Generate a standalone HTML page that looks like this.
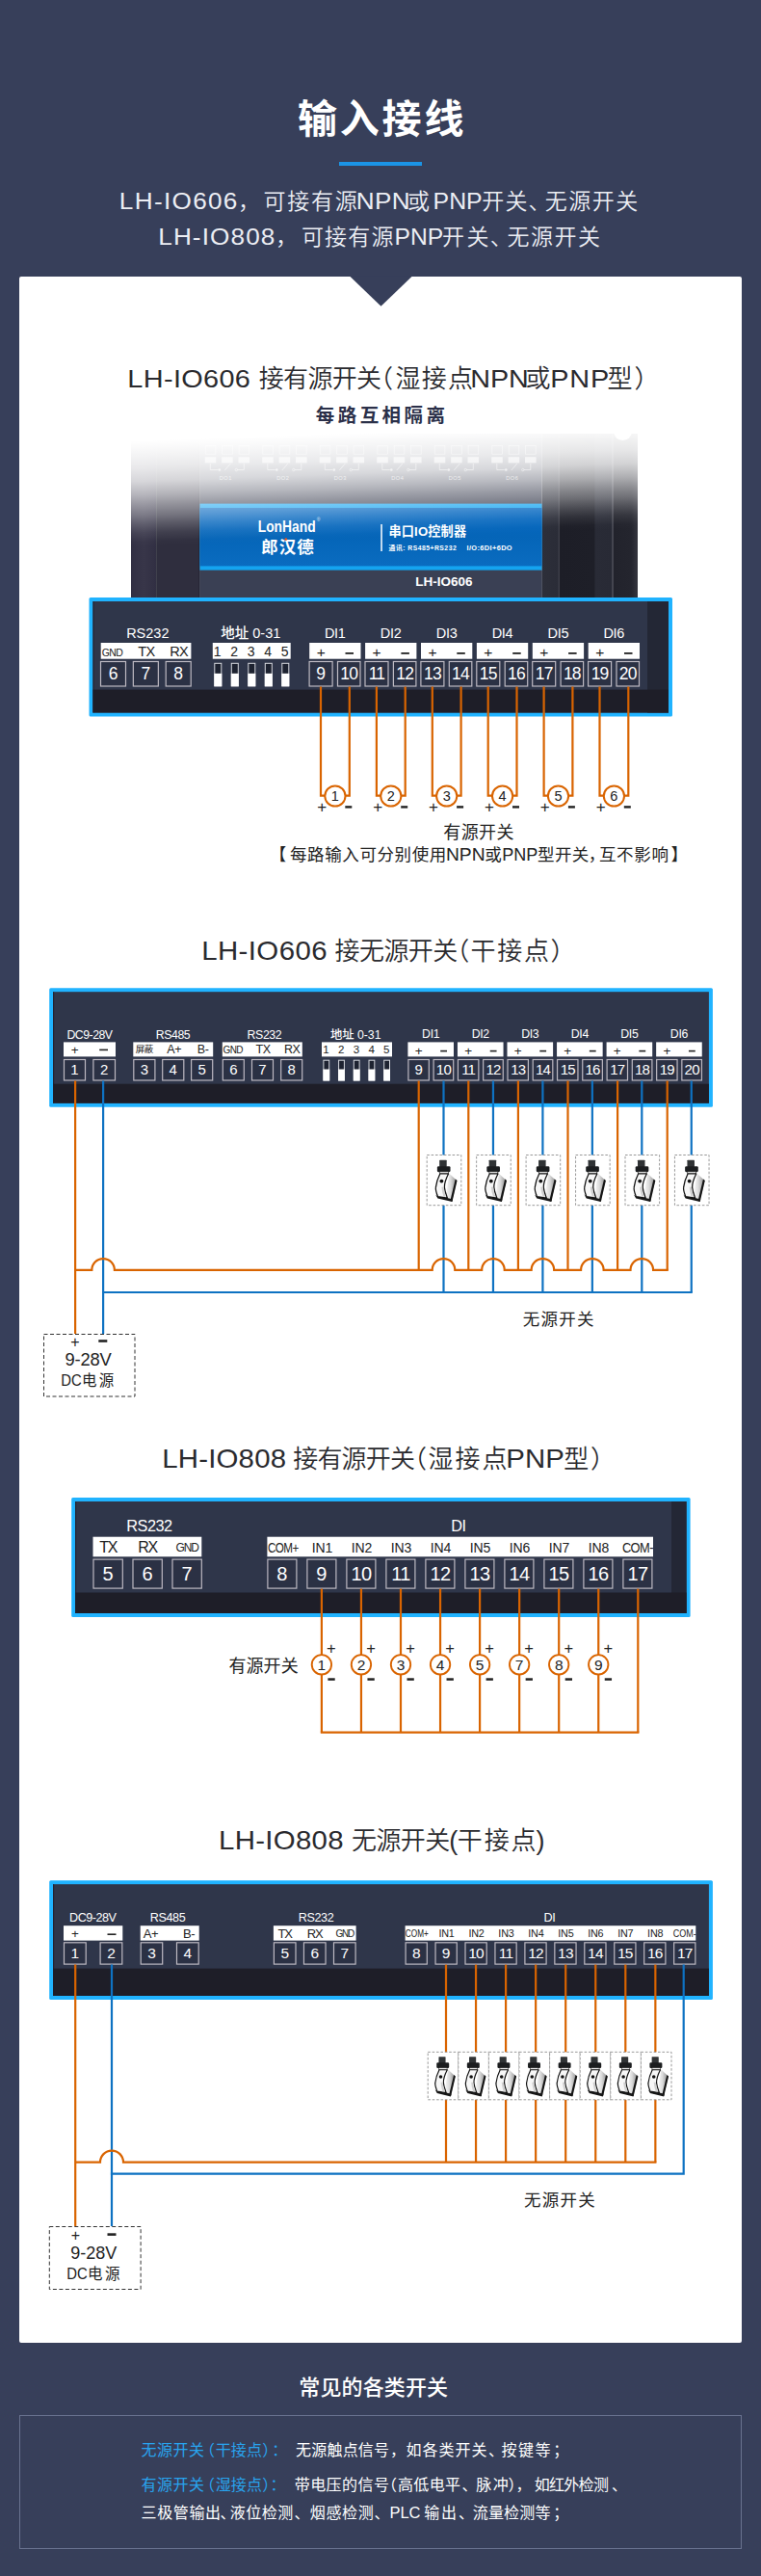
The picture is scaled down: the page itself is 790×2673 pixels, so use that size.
<!DOCTYPE html>
<html lang="zh-CN">
<head>
<meta charset="utf-8">
<title>输入接线</title>
<style>
html,body{margin:0;padding:0;}
body{width:790px;height:2673px;background:#373f5a;position:relative;overflow:hidden;font-family:"Liberation Sans","Noto Sans CJK SC",sans-serif;}
#card{position:absolute;left:20px;top:287px;width:750px;height:2144px;background:#fff;border-radius:2px;}
#bar{position:absolute;left:352px;top:168px;width:86px;height:4px;background:#1b94e6;}
#ft{position:absolute;left:20px;top:2506px;width:748px;height:137.4px;border:1px solid #69728f;}
svg{position:absolute;left:0;top:0;}
svg text{font-family:"Liberation Sans","Noto Sans CJK SC",sans-serif;}
</style>
</head>
<body>
<div id="bar"></div>
<div id="card"></div>
<div id="ft"></div>
<svg width="790" height="2673" viewBox="0 0 790 2673">
<defs>
<linearGradient id="fade" gradientUnits="userSpaceOnUse" x1="400" y1="436" x2="404.81" y2="566.00"><stop offset="0.0000" stop-color="#fff" stop-opacity="1"/><stop offset="0.0923" stop-color="#fff" stop-opacity="1"/><stop offset="0.1462" stop-color="#fff" stop-opacity="0.975"/><stop offset="0.2154" stop-color="#fff" stop-opacity="0.94"/><stop offset="0.3077" stop-color="#fff" stop-opacity="0.89"/><stop offset="0.4154" stop-color="#fff" stop-opacity="0.8"/><stop offset="0.5231" stop-color="#fff" stop-opacity="0.635"/><stop offset="0.6115" stop-color="#fff" stop-opacity="0.47"/><stop offset="0.6827" stop-color="#fff" stop-opacity="0.35"/><stop offset="0.7558" stop-color="#fff" stop-opacity="0.205"/><stop offset="0.8269" stop-color="#fff" stop-opacity="0.085"/><stop offset="0.8981" stop-color="#fff" stop-opacity="0.012"/><stop offset="0.9385" stop-color="#fff" stop-opacity="0"/><stop offset="1.0000" stop-color="#fff" stop-opacity="0"/></linearGradient>
<linearGradient id="lbl" x1="0" y1="0" x2="0" y2="1"><stop offset="0" stop-color="#0568c2"/><stop offset="0.5" stop-color="#0565b8"/><stop offset="1" stop-color="#0a6cc0"/></linearGradient>
<linearGradient id="side1" x1="0" y1="0" x2="1" y2="0"><stop offset="0" stop-color="#312f43"/><stop offset="0.5" stop-color="#383649"/><stop offset="0.96" stop-color="#312f43"/><stop offset="0.97" stop-color="#40414c"/><stop offset="1" stop-color="#40414c"/></linearGradient>
<linearGradient id="sideR" x1="0" y1="0" x2="1" y2="0"><stop offset="0" stop-color="#2d2f3a"/><stop offset="0.17" stop-color="#2a2c37"/><stop offset="0.172" stop-color="#3e3f49"/><stop offset="0.185" stop-color="#3e3f49"/><stop offset="0.187" stop-color="#1d1e27"/><stop offset="0.55" stop-color="#1e1f28"/><stop offset="0.555" stop-color="#292b36"/><stop offset="0.73" stop-color="#282a35"/><stop offset="0.732" stop-color="#44454f"/><stop offset="0.745" stop-color="#44454f"/><stop offset="0.747" stop-color="#22232c"/><stop offset="0.93" stop-color="#24252e"/><stop offset="1" stop-color="#34353e"/></linearGradient>
<linearGradient id="swg" x1="0" y1="0" x2="1" y2="0"><stop offset="0" stop-color="#fafafa"/><stop offset="0.45" stop-color="#dcdcdc"/><stop offset="1" stop-color="#8a8a8a"/></linearGradient>
<g id="sw">
 <rect x="-4.8" y="5.2" width="7.5" height="7.2" rx="0.6" fill="#303335"/>
 <rect x="-7.1" y="11.6" width="13.6" height="6" rx="1.3" fill="#1b1d1f"/>
 <rect x="-4.5" y="17.2" width="8.8" height="2.6" fill="#e9e9e9" stroke="#222" stroke-width="0.6"/>
 <path d="M5.4,19.2 L13.2,26.4 L8.3,47.6 L1.5,45 Z" fill="url(#swg)"/>
 <path d="M11.7,25 L13.5,26.5 L8.5,48 L6.3,47.2 Z" fill="#141414"/>
 <path d="M-8.8,40.8 L-6.6,44.9 L8.3,48.4 L8.9,45.7 L3.3,44.3 L-6.5,42.8 Z" fill="#161616"/>
 <path d="M-4.2,19.4 L4.5,19.4 C2.2,24 0.1,29 0.4,33.5 C0.8,38 2.3,41.4 3.4,44.4 L-6.5,42.9 C-8,39 -9,36 -8.6,33.5 C-8,28 -6,23 -4.2,19.4 Z" fill="#f7f7f7" stroke="#121212" stroke-width="1.25" stroke-linejoin="round"/>
 <path d="M-1.5,33 C-1.2,37 -0.4,40 0.6,43" fill="none" stroke="#d0d0d0" stroke-width="2.2"/>
 <circle cx="-2.6" cy="27" r="1.9" fill="#111"/>
</g>
</defs>
<polygon points="363,286.5 428,286.5 395.5,317.7" fill="#373f5a"/>
<rect x="136.00" y="450.00" width="27.00" height="171.00" fill="url(#side1)" />
<rect x="163.00" y="450.00" width="44.50" height="171.00" fill="#2f2e3e" />
<rect x="206.50" y="450.00" width="1.00" height="171.00" fill="#1f1e2c" />
<rect x="207.50" y="450.00" width="355.00" height="171.00" fill="#3a3e50" />
<rect x="562.50" y="450.00" width="99.50" height="171.00" fill="url(#sideR)" />
<rect x="213.3" y="462.6" width="10.6" height="8.6" fill="none" stroke="#fff" stroke-width="0.7" opacity="0.6"/>
<rect x="212.7" y="474.2" width="11.6" height="6.2" fill="#fff" opacity="0.65"/>
<rect x="230.7" y="462.6" width="10.6" height="8.6" fill="none" stroke="#fff" stroke-width="0.7" opacity="0.6"/>
<rect x="230.1" y="474.2" width="11.6" height="6.2" fill="#fff" opacity="0.65"/>
<rect x="248.1" y="462.6" width="10.6" height="8.6" fill="none" stroke="#fff" stroke-width="0.7" opacity="0.6"/>
<rect x="247.5" y="474.2" width="11.6" height="6.2" fill="#fff" opacity="0.65"/>
<path d="M218.3,481 v6.5 h8 M239.3,481 l-6,7 M253.3,481 v6.5 h-7" fill="none" stroke="#fff" stroke-width="0.8" opacity="0.65"/>
<circle cx="227.8" cy="487.5" r="1.3" fill="#fff" opacity="0.7"/><circle cx="245.3" cy="487.5" r="1.2" fill="none" stroke="#fff" stroke-width="0.7" opacity="0.7"/>
<text x="234.30" y="497.60" font-size="5.6" fill="#fff" text-anchor="middle" font-weight="400" opacity="0.7" letter-spacing="0.6">DO1</text>
<rect x="272.8" y="462.6" width="10.6" height="8.6" fill="none" stroke="#fff" stroke-width="0.7" opacity="0.6"/>
<rect x="272.2" y="474.2" width="11.6" height="6.2" fill="#fff" opacity="0.65"/>
<rect x="290.2" y="462.6" width="10.6" height="8.6" fill="none" stroke="#fff" stroke-width="0.7" opacity="0.6"/>
<rect x="289.6" y="474.2" width="11.6" height="6.2" fill="#fff" opacity="0.65"/>
<rect x="307.6" y="462.6" width="10.6" height="8.6" fill="none" stroke="#fff" stroke-width="0.7" opacity="0.6"/>
<rect x="307.0" y="474.2" width="11.6" height="6.2" fill="#fff" opacity="0.65"/>
<path d="M277.8,481 v6.5 h8 M298.8,481 l-6,7 M312.8,481 v6.5 h-7" fill="none" stroke="#fff" stroke-width="0.8" opacity="0.65"/>
<circle cx="287.3" cy="487.5" r="1.3" fill="#fff" opacity="0.7"/><circle cx="304.8" cy="487.5" r="1.2" fill="none" stroke="#fff" stroke-width="0.7" opacity="0.7"/>
<text x="293.80" y="497.60" font-size="5.6" fill="#fff" text-anchor="middle" font-weight="400" opacity="0.7" letter-spacing="0.6">DO2</text>
<rect x="332.3" y="462.6" width="10.6" height="8.6" fill="none" stroke="#fff" stroke-width="0.7" opacity="0.6"/>
<rect x="331.7" y="474.2" width="11.6" height="6.2" fill="#fff" opacity="0.65"/>
<rect x="349.7" y="462.6" width="10.6" height="8.6" fill="none" stroke="#fff" stroke-width="0.7" opacity="0.6"/>
<rect x="349.1" y="474.2" width="11.6" height="6.2" fill="#fff" opacity="0.65"/>
<rect x="367.1" y="462.6" width="10.6" height="8.6" fill="none" stroke="#fff" stroke-width="0.7" opacity="0.6"/>
<rect x="366.5" y="474.2" width="11.6" height="6.2" fill="#fff" opacity="0.65"/>
<path d="M337.3,481 v6.5 h8 M358.3,481 l-6,7 M372.3,481 v6.5 h-7" fill="none" stroke="#fff" stroke-width="0.8" opacity="0.65"/>
<circle cx="346.8" cy="487.5" r="1.3" fill="#fff" opacity="0.7"/><circle cx="364.3" cy="487.5" r="1.2" fill="none" stroke="#fff" stroke-width="0.7" opacity="0.7"/>
<text x="353.30" y="497.60" font-size="5.6" fill="#fff" text-anchor="middle" font-weight="400" opacity="0.7" letter-spacing="0.6">DO3</text>
<rect x="391.8" y="462.6" width="10.6" height="8.6" fill="none" stroke="#fff" stroke-width="0.7" opacity="0.6"/>
<rect x="391.2" y="474.2" width="11.6" height="6.2" fill="#fff" opacity="0.65"/>
<rect x="409.2" y="462.6" width="10.6" height="8.6" fill="none" stroke="#fff" stroke-width="0.7" opacity="0.6"/>
<rect x="408.6" y="474.2" width="11.6" height="6.2" fill="#fff" opacity="0.65"/>
<rect x="426.6" y="462.6" width="10.6" height="8.6" fill="none" stroke="#fff" stroke-width="0.7" opacity="0.6"/>
<rect x="426.0" y="474.2" width="11.6" height="6.2" fill="#fff" opacity="0.65"/>
<path d="M396.8,481 v6.5 h8 M417.8,481 l-6,7 M431.8,481 v6.5 h-7" fill="none" stroke="#fff" stroke-width="0.8" opacity="0.65"/>
<circle cx="406.3" cy="487.5" r="1.3" fill="#fff" opacity="0.7"/><circle cx="423.8" cy="487.5" r="1.2" fill="none" stroke="#fff" stroke-width="0.7" opacity="0.7"/>
<text x="412.80" y="497.60" font-size="5.6" fill="#fff" text-anchor="middle" font-weight="400" opacity="0.7" letter-spacing="0.6">DO4</text>
<rect x="451.3" y="462.6" width="10.6" height="8.6" fill="none" stroke="#fff" stroke-width="0.7" opacity="0.6"/>
<rect x="450.7" y="474.2" width="11.6" height="6.2" fill="#fff" opacity="0.65"/>
<rect x="468.7" y="462.6" width="10.6" height="8.6" fill="none" stroke="#fff" stroke-width="0.7" opacity="0.6"/>
<rect x="468.1" y="474.2" width="11.6" height="6.2" fill="#fff" opacity="0.65"/>
<rect x="486.1" y="462.6" width="10.6" height="8.6" fill="none" stroke="#fff" stroke-width="0.7" opacity="0.6"/>
<rect x="485.5" y="474.2" width="11.6" height="6.2" fill="#fff" opacity="0.65"/>
<path d="M456.3,481 v6.5 h8 M477.3,481 l-6,7 M491.3,481 v6.5 h-7" fill="none" stroke="#fff" stroke-width="0.8" opacity="0.65"/>
<circle cx="465.8" cy="487.5" r="1.3" fill="#fff" opacity="0.7"/><circle cx="483.3" cy="487.5" r="1.2" fill="none" stroke="#fff" stroke-width="0.7" opacity="0.7"/>
<text x="472.30" y="497.60" font-size="5.6" fill="#fff" text-anchor="middle" font-weight="400" opacity="0.7" letter-spacing="0.6">DO5</text>
<rect x="510.8" y="462.6" width="10.6" height="8.6" fill="none" stroke="#fff" stroke-width="0.7" opacity="0.6"/>
<rect x="510.2" y="474.2" width="11.6" height="6.2" fill="#fff" opacity="0.65"/>
<rect x="528.2" y="462.6" width="10.6" height="8.6" fill="none" stroke="#fff" stroke-width="0.7" opacity="0.6"/>
<rect x="527.6" y="474.2" width="11.6" height="6.2" fill="#fff" opacity="0.65"/>
<rect x="545.6" y="462.6" width="10.6" height="8.6" fill="none" stroke="#fff" stroke-width="0.7" opacity="0.6"/>
<rect x="545.0" y="474.2" width="11.6" height="6.2" fill="#fff" opacity="0.65"/>
<path d="M515.8,481 v6.5 h8 M536.8,481 l-6,7 M550.8,481 v6.5 h-7" fill="none" stroke="#fff" stroke-width="0.8" opacity="0.65"/>
<circle cx="525.3" cy="487.5" r="1.3" fill="#fff" opacity="0.7"/><circle cx="542.8" cy="487.5" r="1.2" fill="none" stroke="#fff" stroke-width="0.7" opacity="0.7"/>
<text x="531.80" y="497.60" font-size="5.6" fill="#fff" text-anchor="middle" font-weight="400" opacity="0.7" letter-spacing="0.6">DO6</text>
<rect x="207.50" y="522.60" width="355.00" height="69.20" fill="#14a4f0" />
<rect x="207.50" y="527.00" width="355.00" height="60.40" fill="url(#lbl)" />
<rect x="207.50" y="591.80" width="355.00" height="29.20" fill="#3a4054" />
<rect x="134.00" y="430.00" width="530.00" height="160.00" fill="url(#fade)" />
<circle cx="646.5" cy="447.5" r="9.5" fill="#fff"/>
<text x="297.70" y="552.30" font-size="16" fill="#fff" text-anchor="middle" font-weight="700" textLength="60" lengthAdjust="spacingAndGlyphs">LonHand</text>
<text x="330.50" y="540.50" font-size="5" fill="#dfe9f5" text-anchor="middle" font-weight="400" >®</text>
<text x="299.00" y="573.60" font-size="17.5" fill="#fff" text-anchor="middle" font-weight="700" letter-spacing="1">郎汉德</text>
<circle cx="296.8" cy="559.6" r="1.3" fill="#e8541e"/>
<rect x="395.30" y="544.00" width="1.50" height="28.00" fill="#fff" />
<text x="403.40" y="556.30" font-size="13.2" fill="#fff" font-weight="700" letter-spacing="0.150" >串口IO控制器</text>
<text x="403.60" y="571.00" font-size="6.8" fill="#fff" font-weight="700" letter-spacing="0.486" >通讯: RS485+RS232</text>
<text transform="translate(484.50,571.00) scale(1.0900,1)" x="0.00" y="0" font-size="6.8" fill="#fff" font-weight="700" letter-spacing="0.339" >I/O:6DI+6DO</text>
<text x="460.80" y="607.60" font-size="13.5" fill="#fff" text-anchor="middle" font-weight="700" >LH-IO606</text>
<rect x="92.50" y="620.00" width="605.50" height="123.50" fill="#20b3ff" rx="1.5"/>
<rect x="96.50" y="624.00" width="597.50" height="115.50" fill="#2f364a" />
<rect x="96.50" y="624.00" width="0.90" height="115.50" fill="#221a24" />
<rect x="672.00" y="624.00" width="22.00" height="115.50" fill="#232735" />
<rect x="96.50" y="715.60" width="597.50" height="23.90" fill="#1e1e28" />
<text x="153.30" y="662.00" font-size="14.5" fill="#fff" text-anchor="middle" font-weight="400" >RS232</text>
<rect x="104.70" y="667.00" width="93.70" height="16.70" fill="#fff" />
<rect x="104.50" y="686.50" width="26.00" height="25.50" fill="#2b3144" stroke="#bdb9c2" stroke-width="1.2"/>
<text x="117.50" y="704.86" font-size="17.5" fill="#fff" text-anchor="middle" font-weight="400" >6</text>
<text x="116.50" y="680.60" font-size="10.5" fill="#222" text-anchor="middle" font-weight="400" letter-spacing="-0.6">GND</text>
<rect x="138.35" y="686.50" width="26.00" height="25.50" fill="#2b3144" stroke="#bdb9c2" stroke-width="1.2"/>
<text x="151.35" y="704.86" font-size="17.5" fill="#fff" text-anchor="middle" font-weight="400" >7</text>
<text x="151.85" y="680.60" font-size="14.5" fill="#222" text-anchor="middle" font-weight="400" letter-spacing="-0.6">TX</text>
<rect x="172.20" y="686.50" width="26.00" height="25.50" fill="#2b3144" stroke="#bdb9c2" stroke-width="1.2"/>
<text x="185.20" y="704.86" font-size="17.5" fill="#fff" text-anchor="middle" font-weight="400" >8</text>
<text x="185.70" y="680.60" font-size="14.5" fill="#222" text-anchor="middle" font-weight="400" letter-spacing="-0.6">RX</text>
<text x="260.30" y="662.30" font-size="14.5" fill="#fff" text-anchor="middle" font-weight="500" >地址 0-31</text>
<rect x="220.80" y="667.00" width="80.90" height="16.70" fill="#fff" />
<text x="225.70" y="680.60" font-size="14" fill="#222" text-anchor="middle" font-weight="400" >1</text>
<rect x="222.80" y="688.30" width="7.00" height="23.50" fill="#1d2230" stroke="#d5d7dd" stroke-width="1"/>
<rect x="222.30" y="698.82" width="8.00" height="13.48" fill="#fff" />
<text x="243.20" y="680.60" font-size="14" fill="#222" text-anchor="middle" font-weight="400" >2</text>
<rect x="240.30" y="688.30" width="7.00" height="23.50" fill="#1d2230" stroke="#d5d7dd" stroke-width="1"/>
<rect x="239.80" y="698.82" width="8.00" height="13.48" fill="#fff" />
<text x="260.70" y="680.60" font-size="14" fill="#222" text-anchor="middle" font-weight="400" >3</text>
<rect x="257.80" y="688.30" width="7.00" height="23.50" fill="#1d2230" stroke="#d5d7dd" stroke-width="1"/>
<rect x="257.30" y="698.82" width="8.00" height="13.48" fill="#fff" />
<text x="278.20" y="680.60" font-size="14" fill="#222" text-anchor="middle" font-weight="400" >4</text>
<rect x="275.30" y="688.30" width="7.00" height="23.50" fill="#1d2230" stroke="#d5d7dd" stroke-width="1"/>
<rect x="274.80" y="698.82" width="8.00" height="13.48" fill="#fff" />
<text x="295.70" y="680.60" font-size="14" fill="#222" text-anchor="middle" font-weight="400" >5</text>
<rect x="292.80" y="688.30" width="7.00" height="23.50" fill="#1d2230" stroke="#d5d7dd" stroke-width="1"/>
<rect x="292.30" y="698.82" width="8.00" height="13.48" fill="#fff" />
<text x="347.80" y="662.00" font-size="14.5" fill="#fff" text-anchor="middle" font-weight="400" letter-spacing="-0.3">DI1</text>
<rect x="321.20" y="667.00" width="53.30" height="16.70" fill="#fff" />
<rect x="321.10" y="686.50" width="24.00" height="25.50" fill="#2b3144" stroke="#bdb9c2" stroke-width="1.2"/>
<text x="333.10" y="704.86" font-size="17.5" fill="#fff" text-anchor="middle" font-weight="400" >9</text>
<rect x="350.50" y="686.50" width="23.50" height="25.50" fill="#2b3144" stroke="#bdb9c2" stroke-width="1.2"/>
<text x="362.25" y="704.86" font-size="17.5" fill="#fff" text-anchor="middle" font-weight="400" letter-spacing="-0.8">10</text>
<text x="333.20" y="682.00" font-size="15.5" fill="#222" text-anchor="middle" font-weight="400" >+</text>
<rect x="358.50" y="677.00" width="8.50" height="1.80" fill="#222" />
<path d="M333.00,712.5 V825.6 H362.80 V712.5" fill="none" stroke="#d96400" stroke-width="2.2"/>
<circle cx="347.90" cy="826" r="10.6" fill="#fff" stroke="#d96400" stroke-width="2"/>
<text x="347.90" y="831.20" font-size="14.5" fill="#222" text-anchor="middle" font-weight="400" >1</text>
<text x="334.20" y="843.00" font-size="17" fill="#222" text-anchor="middle" font-weight="400" >+</text>
<rect x="358.30" y="836.20" width="7.00" height="2.40" fill="#222" />
<text x="405.70" y="662.00" font-size="14.5" fill="#fff" text-anchor="middle" font-weight="400" letter-spacing="-0.3">DI2</text>
<rect x="379.10" y="667.00" width="53.30" height="16.70" fill="#fff" />
<rect x="379.00" y="686.50" width="24.00" height="25.50" fill="#2b3144" stroke="#bdb9c2" stroke-width="1.2"/>
<text x="391.00" y="704.86" font-size="17.5" fill="#fff" text-anchor="middle" font-weight="400" letter-spacing="-0.8">11</text>
<rect x="408.40" y="686.50" width="23.50" height="25.50" fill="#2b3144" stroke="#bdb9c2" stroke-width="1.2"/>
<text x="420.15" y="704.86" font-size="17.5" fill="#fff" text-anchor="middle" font-weight="400" letter-spacing="-0.8">12</text>
<text x="391.10" y="682.00" font-size="15.5" fill="#222" text-anchor="middle" font-weight="400" >+</text>
<rect x="416.40" y="677.00" width="8.50" height="1.80" fill="#222" />
<path d="M390.90,712.5 V825.6 H420.70 V712.5" fill="none" stroke="#d96400" stroke-width="2.2"/>
<circle cx="405.80" cy="826" r="10.6" fill="#fff" stroke="#d96400" stroke-width="2"/>
<text x="405.80" y="831.20" font-size="14.5" fill="#222" text-anchor="middle" font-weight="400" >2</text>
<text x="392.10" y="843.00" font-size="17" fill="#222" text-anchor="middle" font-weight="400" >+</text>
<rect x="416.20" y="836.20" width="7.00" height="2.40" fill="#222" />
<text x="463.60" y="662.00" font-size="14.5" fill="#fff" text-anchor="middle" font-weight="400" letter-spacing="-0.3">DI3</text>
<rect x="437.00" y="667.00" width="53.30" height="16.70" fill="#fff" />
<rect x="436.90" y="686.50" width="24.00" height="25.50" fill="#2b3144" stroke="#bdb9c2" stroke-width="1.2"/>
<text x="448.90" y="704.86" font-size="17.5" fill="#fff" text-anchor="middle" font-weight="400" letter-spacing="-0.8">13</text>
<rect x="466.30" y="686.50" width="23.50" height="25.50" fill="#2b3144" stroke="#bdb9c2" stroke-width="1.2"/>
<text x="478.05" y="704.86" font-size="17.5" fill="#fff" text-anchor="middle" font-weight="400" letter-spacing="-0.8">14</text>
<text x="449.00" y="682.00" font-size="15.5" fill="#222" text-anchor="middle" font-weight="400" >+</text>
<rect x="474.30" y="677.00" width="8.50" height="1.80" fill="#222" />
<path d="M448.80,712.5 V825.6 H478.60 V712.5" fill="none" stroke="#d96400" stroke-width="2.2"/>
<circle cx="463.70" cy="826" r="10.6" fill="#fff" stroke="#d96400" stroke-width="2"/>
<text x="463.70" y="831.20" font-size="14.5" fill="#222" text-anchor="middle" font-weight="400" >3</text>
<text x="450.00" y="843.00" font-size="17" fill="#222" text-anchor="middle" font-weight="400" >+</text>
<rect x="474.10" y="836.20" width="7.00" height="2.40" fill="#222" />
<text x="521.50" y="662.00" font-size="14.5" fill="#fff" text-anchor="middle" font-weight="400" letter-spacing="-0.3">DI4</text>
<rect x="494.90" y="667.00" width="53.30" height="16.70" fill="#fff" />
<rect x="494.80" y="686.50" width="24.00" height="25.50" fill="#2b3144" stroke="#bdb9c2" stroke-width="1.2"/>
<text x="506.80" y="704.86" font-size="17.5" fill="#fff" text-anchor="middle" font-weight="400" letter-spacing="-0.8">15</text>
<rect x="524.20" y="686.50" width="23.50" height="25.50" fill="#2b3144" stroke="#bdb9c2" stroke-width="1.2"/>
<text x="535.95" y="704.86" font-size="17.5" fill="#fff" text-anchor="middle" font-weight="400" letter-spacing="-0.8">16</text>
<text x="506.90" y="682.00" font-size="15.5" fill="#222" text-anchor="middle" font-weight="400" >+</text>
<rect x="532.20" y="677.00" width="8.50" height="1.80" fill="#222" />
<path d="M506.70,712.5 V825.6 H536.50 V712.5" fill="none" stroke="#d96400" stroke-width="2.2"/>
<circle cx="521.60" cy="826" r="10.6" fill="#fff" stroke="#d96400" stroke-width="2"/>
<text x="521.60" y="831.20" font-size="14.5" fill="#222" text-anchor="middle" font-weight="400" >4</text>
<text x="507.90" y="843.00" font-size="17" fill="#222" text-anchor="middle" font-weight="400" >+</text>
<rect x="532.00" y="836.20" width="7.00" height="2.40" fill="#222" />
<text x="579.40" y="662.00" font-size="14.5" fill="#fff" text-anchor="middle" font-weight="400" letter-spacing="-0.3">DI5</text>
<rect x="552.80" y="667.00" width="53.30" height="16.70" fill="#fff" />
<rect x="552.70" y="686.50" width="24.00" height="25.50" fill="#2b3144" stroke="#bdb9c2" stroke-width="1.2"/>
<text x="564.70" y="704.86" font-size="17.5" fill="#fff" text-anchor="middle" font-weight="400" letter-spacing="-0.8">17</text>
<rect x="582.10" y="686.50" width="23.50" height="25.50" fill="#2b3144" stroke="#bdb9c2" stroke-width="1.2"/>
<text x="593.85" y="704.86" font-size="17.5" fill="#fff" text-anchor="middle" font-weight="400" letter-spacing="-0.8">18</text>
<text x="564.80" y="682.00" font-size="15.5" fill="#222" text-anchor="middle" font-weight="400" >+</text>
<rect x="590.10" y="677.00" width="8.50" height="1.80" fill="#222" />
<path d="M564.60,712.5 V825.6 H594.40 V712.5" fill="none" stroke="#d96400" stroke-width="2.2"/>
<circle cx="579.50" cy="826" r="10.6" fill="#fff" stroke="#d96400" stroke-width="2"/>
<text x="579.50" y="831.20" font-size="14.5" fill="#222" text-anchor="middle" font-weight="400" >5</text>
<text x="565.80" y="843.00" font-size="17" fill="#222" text-anchor="middle" font-weight="400" >+</text>
<rect x="589.90" y="836.20" width="7.00" height="2.40" fill="#222" />
<text x="637.30" y="662.00" font-size="14.5" fill="#fff" text-anchor="middle" font-weight="400" letter-spacing="-0.3">DI6</text>
<rect x="610.70" y="667.00" width="53.30" height="16.70" fill="#fff" />
<rect x="610.60" y="686.50" width="24.00" height="25.50" fill="#2b3144" stroke="#bdb9c2" stroke-width="1.2"/>
<text x="622.60" y="704.86" font-size="17.5" fill="#fff" text-anchor="middle" font-weight="400" letter-spacing="-0.8">19</text>
<rect x="640.00" y="686.50" width="23.50" height="25.50" fill="#2b3144" stroke="#bdb9c2" stroke-width="1.2"/>
<text x="651.75" y="704.86" font-size="17.5" fill="#fff" text-anchor="middle" font-weight="400" letter-spacing="-0.8">20</text>
<text x="622.70" y="682.00" font-size="15.5" fill="#222" text-anchor="middle" font-weight="400" >+</text>
<rect x="648.00" y="677.00" width="8.50" height="1.80" fill="#222" />
<path d="M622.50,712.5 V825.6 H652.30 V712.5" fill="none" stroke="#d96400" stroke-width="2.2"/>
<circle cx="637.40" cy="826" r="10.6" fill="#fff" stroke="#d96400" stroke-width="2"/>
<text x="637.40" y="831.20" font-size="14.5" fill="#222" text-anchor="middle" font-weight="400" >6</text>
<text x="623.70" y="843.00" font-size="17" fill="#222" text-anchor="middle" font-weight="400" >+</text>
<rect x="647.80" y="836.20" width="7.00" height="2.40" fill="#222" />
<rect x="51.20" y="1025.20" width="688.70" height="123.50" fill="#20b3ff" rx="1.5"/>
<rect x="55.20" y="1029.20" width="680.70" height="115.50" fill="#2f364a" />
<rect x="55.20" y="1029.20" width="0.90" height="115.50" fill="#221a24" />
<rect x="55.20" y="1124.70" width="680.70" height="20.00" fill="#1e1e28" />
<text x="93.00" y="1077.60" font-size="12.3" fill="#fff" text-anchor="middle" font-weight="400" letter-spacing="-0.5">DC9-28V</text>
<rect x="66.00" y="1081.40" width="54.00" height="15.00" fill="#fff" />
<rect x="66.50" y="1099.50" width="22.00" height="21.50" fill="#2b3144" stroke="#bdb9c2" stroke-width="1.2"/>
<text x="77.50" y="1114.98" font-size="15" fill="#fff" text-anchor="middle" font-weight="400" >1</text>
<rect x="96.90" y="1099.50" width="22.60" height="21.50" fill="#2b3144" stroke="#bdb9c2" stroke-width="1.2"/>
<text x="108.20" y="1114.98" font-size="15" fill="#fff" text-anchor="middle" font-weight="400" >2</text>
<text x="77.50" y="1093.80" font-size="13.5" fill="#222" text-anchor="middle" font-weight="400" letter-spacing="-0.4">+</text>
<rect x="103.20" y="1088.60" width="8.80" height="1.60" fill="#222" />
<text x="179.50" y="1077.60" font-size="12.3" fill="#fff" text-anchor="middle" font-weight="400" letter-spacing="-0.4">RS485</text>
<rect x="138.30" y="1081.40" width="82.90" height="15.00" fill="#fff" />
<rect x="138.80" y="1099.50" width="22.10" height="21.50" fill="#2b3144" stroke="#bdb9c2" stroke-width="1.2"/>
<text x="149.85" y="1114.98" font-size="15" fill="#fff" text-anchor="middle" font-weight="400" >3</text>
<text x="149.80" y="1092.40" font-size="9.5" fill="#222" text-anchor="middle" font-weight="400" letter-spacing="-0.4">屏蔽</text>
<rect x="168.70" y="1099.50" width="22.10" height="21.50" fill="#2b3144" stroke="#bdb9c2" stroke-width="1.2"/>
<text x="179.75" y="1114.98" font-size="15" fill="#fff" text-anchor="middle" font-weight="400" >4</text>
<text x="180.70" y="1093.20" font-size="12.5" fill="#222" text-anchor="middle" font-weight="400" letter-spacing="-0.4">A+</text>
<rect x="198.60" y="1099.50" width="22.10" height="21.50" fill="#2b3144" stroke="#bdb9c2" stroke-width="1.2"/>
<text x="209.65" y="1114.98" font-size="15" fill="#fff" text-anchor="middle" font-weight="400" >5</text>
<text x="210.60" y="1093.20" font-size="12.5" fill="#222" text-anchor="middle" font-weight="400" letter-spacing="-0.4">B-</text>
<text x="274.40" y="1077.60" font-size="12.3" fill="#fff" text-anchor="middle" font-weight="400" letter-spacing="-0.4">RS232</text>
<rect x="230.80" y="1081.40" width="83.00" height="15.00" fill="#fff" />
<rect x="231.30" y="1099.50" width="22.00" height="21.50" fill="#2b3144" stroke="#bdb9c2" stroke-width="1.2"/>
<text x="242.30" y="1114.98" font-size="15" fill="#fff" text-anchor="middle" font-weight="400" >6</text>
<text x="241.70" y="1093.20" font-size="10" fill="#222" text-anchor="middle" font-weight="400" letter-spacing="-0.6">GND</text>
<rect x="261.50" y="1099.50" width="22.00" height="21.50" fill="#2b3144" stroke="#bdb9c2" stroke-width="1.2"/>
<text x="272.50" y="1114.98" font-size="15" fill="#fff" text-anchor="middle" font-weight="400" >7</text>
<text x="273.00" y="1093.20" font-size="12.5" fill="#222" text-anchor="middle" font-weight="400" letter-spacing="-0.6">TX</text>
<rect x="291.70" y="1099.50" width="22.00" height="21.50" fill="#2b3144" stroke="#bdb9c2" stroke-width="1.2"/>
<text x="302.70" y="1114.98" font-size="15" fill="#fff" text-anchor="middle" font-weight="400" >8</text>
<text x="303.20" y="1093.20" font-size="12.5" fill="#222" text-anchor="middle" font-weight="400" letter-spacing="-0.6">RX</text>
<text x="369.20" y="1077.80" font-size="12.3" fill="#fff" text-anchor="middle" font-weight="500" >地址 0-31</text>
<rect x="334.00" y="1081.40" width="73.00" height="15.00" fill="#fff" />
<text x="338.30" y="1093.20" font-size="11.5" fill="#222" text-anchor="middle" font-weight="400" letter-spacing="-0.4">1</text>
<rect x="335.90" y="1100.20" width="5.80" height="20.80" fill="#1d2230" stroke="#d5d7dd" stroke-width="1"/>
<rect x="335.40" y="1109.51" width="6.80" height="11.99" fill="#fff" />
<text x="354.00" y="1093.20" font-size="11.5" fill="#222" text-anchor="middle" font-weight="400" letter-spacing="-0.4">2</text>
<rect x="351.60" y="1100.20" width="5.80" height="20.80" fill="#1d2230" stroke="#d5d7dd" stroke-width="1"/>
<rect x="351.10" y="1109.51" width="6.80" height="11.99" fill="#fff" />
<text x="369.70" y="1093.20" font-size="11.5" fill="#222" text-anchor="middle" font-weight="400" letter-spacing="-0.4">3</text>
<rect x="367.30" y="1100.20" width="5.80" height="20.80" fill="#1d2230" stroke="#d5d7dd" stroke-width="1"/>
<rect x="366.80" y="1109.51" width="6.80" height="11.99" fill="#fff" />
<text x="385.40" y="1093.20" font-size="11.5" fill="#222" text-anchor="middle" font-weight="400" letter-spacing="-0.4">4</text>
<rect x="383.00" y="1100.20" width="5.80" height="20.80" fill="#1d2230" stroke="#d5d7dd" stroke-width="1"/>
<rect x="382.50" y="1109.51" width="6.80" height="11.99" fill="#fff" />
<text x="401.10" y="1093.20" font-size="11.5" fill="#222" text-anchor="middle" font-weight="400" letter-spacing="-0.4">5</text>
<rect x="398.70" y="1100.20" width="5.80" height="20.80" fill="#1d2230" stroke="#d5d7dd" stroke-width="1"/>
<rect x="398.20" y="1109.51" width="6.80" height="11.99" fill="#fff" />
<text x="447.20" y="1076.90" font-size="12.3" fill="#fff" text-anchor="middle" font-weight="400" letter-spacing="-0.3">DI1</text>
<rect x="423.40" y="1081.40" width="47.60" height="15.00" fill="#fff" />
<rect x="423.90" y="1099.50" width="21.40" height="21.50" fill="#2b3144" stroke="#bdb9c2" stroke-width="1.2"/>
<text x="434.60" y="1114.98" font-size="15" fill="#fff" text-anchor="middle" font-weight="400" >9</text>
<rect x="450.10" y="1099.50" width="20.60" height="21.50" fill="#2b3144" stroke="#bdb9c2" stroke-width="1.2"/>
<text x="460.40" y="1114.98" font-size="15" fill="#fff" text-anchor="middle" font-weight="400" letter-spacing="-0.8">10</text>
<text x="434.40" y="1094.70" font-size="13.5" fill="#222" text-anchor="middle" font-weight="400" letter-spacing="-0.4">+</text>
<rect x="457.20" y="1089.80" width="6.80" height="1.60" fill="#222" />
<text x="498.75" y="1076.90" font-size="12.3" fill="#fff" text-anchor="middle" font-weight="400" letter-spacing="-0.3">DI2</text>
<rect x="474.95" y="1081.40" width="47.60" height="15.00" fill="#fff" />
<rect x="475.45" y="1099.50" width="21.40" height="21.50" fill="#2b3144" stroke="#bdb9c2" stroke-width="1.2"/>
<text x="486.15" y="1114.98" font-size="15" fill="#fff" text-anchor="middle" font-weight="400" letter-spacing="-0.8">11</text>
<rect x="501.65" y="1099.50" width="20.60" height="21.50" fill="#2b3144" stroke="#bdb9c2" stroke-width="1.2"/>
<text x="511.95" y="1114.98" font-size="15" fill="#fff" text-anchor="middle" font-weight="400" letter-spacing="-0.8">12</text>
<text x="485.95" y="1094.70" font-size="13.5" fill="#222" text-anchor="middle" font-weight="400" letter-spacing="-0.4">+</text>
<rect x="508.75" y="1089.80" width="6.80" height="1.60" fill="#222" />
<text x="550.30" y="1076.90" font-size="12.3" fill="#fff" text-anchor="middle" font-weight="400" letter-spacing="-0.3">DI3</text>
<rect x="526.50" y="1081.40" width="47.60" height="15.00" fill="#fff" />
<rect x="527.00" y="1099.50" width="21.40" height="21.50" fill="#2b3144" stroke="#bdb9c2" stroke-width="1.2"/>
<text x="537.70" y="1114.98" font-size="15" fill="#fff" text-anchor="middle" font-weight="400" letter-spacing="-0.8">13</text>
<rect x="553.20" y="1099.50" width="20.60" height="21.50" fill="#2b3144" stroke="#bdb9c2" stroke-width="1.2"/>
<text x="563.50" y="1114.98" font-size="15" fill="#fff" text-anchor="middle" font-weight="400" letter-spacing="-0.8">14</text>
<text x="537.50" y="1094.70" font-size="13.5" fill="#222" text-anchor="middle" font-weight="400" letter-spacing="-0.4">+</text>
<rect x="560.30" y="1089.80" width="6.80" height="1.60" fill="#222" />
<text x="601.85" y="1076.90" font-size="12.3" fill="#fff" text-anchor="middle" font-weight="400" letter-spacing="-0.3">DI4</text>
<rect x="578.05" y="1081.40" width="47.60" height="15.00" fill="#fff" />
<rect x="578.55" y="1099.50" width="21.40" height="21.50" fill="#2b3144" stroke="#bdb9c2" stroke-width="1.2"/>
<text x="589.25" y="1114.98" font-size="15" fill="#fff" text-anchor="middle" font-weight="400" letter-spacing="-0.8">15</text>
<rect x="604.75" y="1099.50" width="20.60" height="21.50" fill="#2b3144" stroke="#bdb9c2" stroke-width="1.2"/>
<text x="615.05" y="1114.98" font-size="15" fill="#fff" text-anchor="middle" font-weight="400" letter-spacing="-0.8">16</text>
<text x="589.05" y="1094.70" font-size="13.5" fill="#222" text-anchor="middle" font-weight="400" letter-spacing="-0.4">+</text>
<rect x="611.85" y="1089.80" width="6.80" height="1.60" fill="#222" />
<text x="653.40" y="1076.90" font-size="12.3" fill="#fff" text-anchor="middle" font-weight="400" letter-spacing="-0.3">DI5</text>
<rect x="629.60" y="1081.40" width="47.60" height="15.00" fill="#fff" />
<rect x="630.10" y="1099.50" width="21.40" height="21.50" fill="#2b3144" stroke="#bdb9c2" stroke-width="1.2"/>
<text x="640.80" y="1114.98" font-size="15" fill="#fff" text-anchor="middle" font-weight="400" letter-spacing="-0.8">17</text>
<rect x="656.30" y="1099.50" width="20.60" height="21.50" fill="#2b3144" stroke="#bdb9c2" stroke-width="1.2"/>
<text x="666.60" y="1114.98" font-size="15" fill="#fff" text-anchor="middle" font-weight="400" letter-spacing="-0.8">18</text>
<text x="640.60" y="1094.70" font-size="13.5" fill="#222" text-anchor="middle" font-weight="400" letter-spacing="-0.4">+</text>
<rect x="663.40" y="1089.80" width="6.80" height="1.60" fill="#222" />
<text x="704.95" y="1076.90" font-size="12.3" fill="#fff" text-anchor="middle" font-weight="400" letter-spacing="-0.3">DI6</text>
<rect x="681.15" y="1081.40" width="47.60" height="15.00" fill="#fff" />
<rect x="681.65" y="1099.50" width="21.40" height="21.50" fill="#2b3144" stroke="#bdb9c2" stroke-width="1.2"/>
<text x="692.35" y="1114.98" font-size="15" fill="#fff" text-anchor="middle" font-weight="400" letter-spacing="-0.8">19</text>
<rect x="707.85" y="1099.50" width="20.60" height="21.50" fill="#2b3144" stroke="#bdb9c2" stroke-width="1.2"/>
<text x="718.15" y="1114.98" font-size="15" fill="#fff" text-anchor="middle" font-weight="400" letter-spacing="-0.8">20</text>
<text x="692.15" y="1094.70" font-size="13.5" fill="#222" text-anchor="middle" font-weight="400" letter-spacing="-0.4">+</text>
<rect x="714.95" y="1089.80" width="6.80" height="1.60" fill="#222" />
<line x1="434.70" y1="1121.50" x2="434.70" y2="1317.90" stroke="#d96400" stroke-width="2.2"/>
<line x1="486.30" y1="1121.50" x2="486.30" y2="1317.90" stroke="#d96400" stroke-width="2.2"/>
<line x1="537.90" y1="1121.50" x2="537.90" y2="1317.90" stroke="#d96400" stroke-width="2.2"/>
<line x1="589.50" y1="1121.50" x2="589.50" y2="1317.90" stroke="#d96400" stroke-width="2.2"/>
<line x1="641.10" y1="1121.50" x2="641.10" y2="1317.90" stroke="#d96400" stroke-width="2.2"/>
<line x1="692.70" y1="1121.50" x2="692.70" y2="1317.90" stroke="#d96400" stroke-width="2.2"/>
<line x1="460.50" y1="1121.50" x2="460.50" y2="1341.00" stroke="#0e72c2" stroke-width="2.2"/>
<line x1="511.95" y1="1121.50" x2="511.95" y2="1341.00" stroke="#0e72c2" stroke-width="2.2"/>
<line x1="563.40" y1="1121.50" x2="563.40" y2="1341.00" stroke="#0e72c2" stroke-width="2.2"/>
<line x1="614.85" y1="1121.50" x2="614.85" y2="1341.00" stroke="#0e72c2" stroke-width="2.2"/>
<line x1="666.30" y1="1121.50" x2="666.30" y2="1341.00" stroke="#0e72c2" stroke-width="2.2"/>
<line x1="717.75" y1="1121.50" x2="717.75" y2="1341.00" stroke="#0e72c2" stroke-width="2.2"/>
<line x1="78.10" y1="1121.50" x2="78.10" y2="1384.00" stroke="#d96400" stroke-width="2.2"/>
<line x1="107.10" y1="1121.50" x2="107.10" y2="1384.00" stroke="#0e72c2" stroke-width="2.2"/>
<line x1="106.05" y1="1341.00" x2="718.80" y2="1341.00" stroke="#0e72c2" stroke-width="2.2"/>
<path d="M78.1,1317.9 H95.30 A11.8,11.8 0 0 1 118.90,1317.9 H448.70 A11.8,11.8 0 0 1 472.30,1317.9 H500.15 A11.8,11.8 0 0 1 523.75,1317.9 H551.60 A11.8,11.8 0 0 1 575.20,1317.9 H603.05 A11.8,11.8 0 0 1 626.65,1317.9 H654.50 A11.8,11.8 0 0 1 678.10,1317.9 H693.80" fill="none" stroke="#d96400" stroke-width="2.2"/>
<rect x="443.20" y="1198.50" width="35.60" height="52.20" fill="#fff" stroke="#8d8d8d" stroke-width="0.9" stroke-dasharray="2.6 1.8"/>
<use href="#sw" transform="translate(461.00,1198.50) scale(1.004)"/>
<rect x="494.65" y="1198.50" width="35.60" height="52.20" fill="#fff" stroke="#8d8d8d" stroke-width="0.9" stroke-dasharray="2.6 1.8"/>
<use href="#sw" transform="translate(512.45,1198.50) scale(1.004)"/>
<rect x="546.10" y="1198.50" width="35.60" height="52.20" fill="#fff" stroke="#8d8d8d" stroke-width="0.9" stroke-dasharray="2.6 1.8"/>
<use href="#sw" transform="translate(563.90,1198.50) scale(1.004)"/>
<rect x="597.55" y="1198.50" width="35.60" height="52.20" fill="#fff" stroke="#8d8d8d" stroke-width="0.9" stroke-dasharray="2.6 1.8"/>
<use href="#sw" transform="translate(615.35,1198.50) scale(1.004)"/>
<rect x="649.00" y="1198.50" width="35.60" height="52.20" fill="#fff" stroke="#8d8d8d" stroke-width="0.9" stroke-dasharray="2.6 1.8"/>
<use href="#sw" transform="translate(666.80,1198.50) scale(1.004)"/>
<rect x="700.45" y="1198.50" width="35.60" height="52.20" fill="#fff" stroke="#8d8d8d" stroke-width="0.9" stroke-dasharray="2.6 1.8"/>
<use href="#sw" transform="translate(718.25,1198.50) scale(1.004)"/>
<text x="580.20" y="1375.20" font-size="17.5" fill="#222" text-anchor="middle" font-weight="400" letter-spacing="1.2">无源开关</text>
<rect x="45.5" y="1384.5" width="94.5" height="64.5" fill="#fff" stroke="#333" stroke-width="1" stroke-dasharray="4 2.5"/>
<text x="78.00" y="1397.50" font-size="16" fill="#222" text-anchor="middle" font-weight="400" >+</text>
<rect x="102.30" y="1390.20" width="9.00" height="2.60" fill="#222" />
<text x="91.50" y="1417.40" font-size="18.5" fill="#222" text-anchor="middle" font-weight="400" letter-spacing="-0.2" textLength="48" lengthAdjust="spacingAndGlyphs">9-28V</text>
<text x="63.30" y="1438.40" font-size="17" fill="#222" text-anchor="start" font-weight="400" textLength="21.5" lengthAdjust="spacingAndGlyphs">DC</text>
<text x="85.00" y="1438.20" font-size="15.5" fill="#222" font-weight="400" letter-spacing="2.300" >电源</text>
<rect x="74.20" y="1554.00" width="642.40" height="124.00" fill="#20b3ff" rx="1.5"/>
<rect x="78.20" y="1558.00" width="634.40" height="116.00" fill="#2f364a" />
<rect x="78.20" y="1558.00" width="0.90" height="116.00" fill="#221a24" />
<rect x="697.00" y="1558.00" width="15.60" height="116.00" fill="#232735" />
<rect x="78.20" y="1652.50" width="634.40" height="21.50" fill="#1e1e28" />
<text x="155.00" y="1589.20" font-size="16.3" fill="#fff" text-anchor="middle" font-weight="400" letter-spacing="-0.5">RS232</text>
<rect x="96.50" y="1594.70" width="112.80" height="20.60" fill="#fff" />
<rect x="97.00" y="1618.10" width="30.30" height="30.00" fill="#2b3144" stroke="#bdb9c2" stroke-width="1.2"/>
<text x="112.15" y="1639.60" font-size="20" fill="#fff" text-anchor="middle" font-weight="400" >5</text>
<text x="112.10" y="1611.20" font-size="16" fill="#222" text-anchor="middle" font-weight="400" letter-spacing="-1.5">TX</text>
<rect x="138.00" y="1618.10" width="30.30" height="30.00" fill="#2b3144" stroke="#bdb9c2" stroke-width="1.2"/>
<text x="153.15" y="1639.60" font-size="20" fill="#fff" text-anchor="middle" font-weight="400" >6</text>
<text x="153.10" y="1611.20" font-size="16" fill="#222" text-anchor="middle" font-weight="400" letter-spacing="-1.2">RX</text>
<rect x="179.00" y="1618.10" width="30.30" height="30.00" fill="#2b3144" stroke="#bdb9c2" stroke-width="1.2"/>
<text x="194.15" y="1639.60" font-size="20" fill="#fff" text-anchor="middle" font-weight="400" >7</text>
<text x="194.10" y="1610.40" font-size="12" fill="#222" text-anchor="middle" font-weight="400" letter-spacing="-1.2">GND</text>
<text x="476.00" y="1589.20" font-size="16.3" fill="#fff" text-anchor="middle" font-weight="400" letter-spacing="-0.3">DI</text>
<rect x="277.40" y="1594.70" width="400.60" height="20.60" fill="#fff" />
<rect x="277.90" y="1618.10" width="30.00" height="30.00" fill="#2b3144" stroke="#bdb9c2" stroke-width="1.2"/>
<text x="292.90" y="1639.60" font-size="20" fill="#fff" text-anchor="middle" font-weight="400" >8</text>
<text x="293.90" y="1611.00" font-size="14" fill="#222" text-anchor="middle" font-weight="400" letter-spacing="-0.6" textLength="32" lengthAdjust="spacingAndGlyphs">COM+</text>
<rect x="318.90" y="1618.10" width="30.00" height="30.00" fill="#2b3144" stroke="#bdb9c2" stroke-width="1.2"/>
<text x="333.90" y="1639.60" font-size="20" fill="#fff" text-anchor="middle" font-weight="400" >9</text>
<text x="334.40" y="1611.00" font-size="14" fill="#222" text-anchor="middle" font-weight="400" letter-spacing="-0.2">IN1</text>
<rect x="359.90" y="1618.10" width="30.00" height="30.00" fill="#2b3144" stroke="#bdb9c2" stroke-width="1.2"/>
<text x="374.90" y="1639.60" font-size="20" fill="#fff" text-anchor="middle" font-weight="400" letter-spacing="-0.8">10</text>
<text x="375.40" y="1611.00" font-size="14" fill="#222" text-anchor="middle" font-weight="400" letter-spacing="-0.2">IN2</text>
<rect x="400.90" y="1618.10" width="30.00" height="30.00" fill="#2b3144" stroke="#bdb9c2" stroke-width="1.2"/>
<text x="415.90" y="1639.60" font-size="20" fill="#fff" text-anchor="middle" font-weight="400" letter-spacing="-0.8">11</text>
<text x="416.40" y="1611.00" font-size="14" fill="#222" text-anchor="middle" font-weight="400" letter-spacing="-0.2">IN3</text>
<rect x="441.90" y="1618.10" width="30.00" height="30.00" fill="#2b3144" stroke="#bdb9c2" stroke-width="1.2"/>
<text x="456.90" y="1639.60" font-size="20" fill="#fff" text-anchor="middle" font-weight="400" letter-spacing="-0.8">12</text>
<text x="457.40" y="1611.00" font-size="14" fill="#222" text-anchor="middle" font-weight="400" letter-spacing="-0.2">IN4</text>
<rect x="482.90" y="1618.10" width="30.00" height="30.00" fill="#2b3144" stroke="#bdb9c2" stroke-width="1.2"/>
<text x="497.90" y="1639.60" font-size="20" fill="#fff" text-anchor="middle" font-weight="400" letter-spacing="-0.8">13</text>
<text x="498.40" y="1611.00" font-size="14" fill="#222" text-anchor="middle" font-weight="400" letter-spacing="-0.2">IN5</text>
<rect x="523.90" y="1618.10" width="30.00" height="30.00" fill="#2b3144" stroke="#bdb9c2" stroke-width="1.2"/>
<text x="538.90" y="1639.60" font-size="20" fill="#fff" text-anchor="middle" font-weight="400" letter-spacing="-0.8">14</text>
<text x="539.40" y="1611.00" font-size="14" fill="#222" text-anchor="middle" font-weight="400" letter-spacing="-0.2">IN6</text>
<rect x="564.90" y="1618.10" width="30.00" height="30.00" fill="#2b3144" stroke="#bdb9c2" stroke-width="1.2"/>
<text x="579.90" y="1639.60" font-size="20" fill="#fff" text-anchor="middle" font-weight="400" letter-spacing="-0.8">15</text>
<text x="580.40" y="1611.00" font-size="14" fill="#222" text-anchor="middle" font-weight="400" letter-spacing="-0.2">IN7</text>
<rect x="605.90" y="1618.10" width="30.00" height="30.00" fill="#2b3144" stroke="#bdb9c2" stroke-width="1.2"/>
<text x="620.90" y="1639.60" font-size="20" fill="#fff" text-anchor="middle" font-weight="400" letter-spacing="-0.8">16</text>
<text x="621.40" y="1611.00" font-size="14" fill="#222" text-anchor="middle" font-weight="400" letter-spacing="-0.2">IN8</text>
<rect x="646.90" y="1618.10" width="30.00" height="30.00" fill="#2b3144" stroke="#bdb9c2" stroke-width="1.2"/>
<text x="661.90" y="1639.60" font-size="20" fill="#fff" text-anchor="middle" font-weight="400" letter-spacing="-0.8">17</text>
<text x="661.90" y="1611.00" font-size="14" fill="#222" text-anchor="middle" font-weight="400" letter-spacing="-0.6" textLength="32" lengthAdjust="spacingAndGlyphs">COM-</text>
<line x1="333.90" y1="1648.60" x2="333.90" y2="1797.70" stroke="#d96400" stroke-width="2.2"/>
<line x1="374.95" y1="1648.60" x2="374.95" y2="1797.70" stroke="#d96400" stroke-width="2.2"/>
<line x1="416.00" y1="1648.60" x2="416.00" y2="1797.70" stroke="#d96400" stroke-width="2.2"/>
<line x1="457.05" y1="1648.60" x2="457.05" y2="1797.70" stroke="#d96400" stroke-width="2.2"/>
<line x1="498.10" y1="1648.60" x2="498.10" y2="1797.70" stroke="#d96400" stroke-width="2.2"/>
<line x1="539.15" y1="1648.60" x2="539.15" y2="1797.70" stroke="#d96400" stroke-width="2.2"/>
<line x1="580.20" y1="1648.60" x2="580.20" y2="1797.70" stroke="#d96400" stroke-width="2.2"/>
<line x1="621.25" y1="1648.60" x2="621.25" y2="1797.70" stroke="#d96400" stroke-width="2.2"/>
<line x1="662.30" y1="1648.60" x2="662.30" y2="1797.70" stroke="#d96400" stroke-width="2.2"/>
<line x1="332.80" y1="1797.70" x2="663.40" y2="1797.70" stroke="#d96400" stroke-width="2.2"/>
<circle cx="333.90" cy="1727.3" r="10.2" fill="#fff" stroke="#d96400" stroke-width="1.9"/>
<text x="333.90" y="1732.80" font-size="15.5" fill="#222" text-anchor="middle" font-weight="400" >1</text>
<text x="343.90" y="1715.60" font-size="16.5" fill="#222" text-anchor="middle" font-weight="400" >+</text>
<rect x="340.40" y="1741.30" width="7.30" height="2.50" fill="#222" />
<circle cx="374.95" cy="1727.3" r="10.2" fill="#fff" stroke="#d96400" stroke-width="1.9"/>
<text x="374.95" y="1732.80" font-size="15.5" fill="#222" text-anchor="middle" font-weight="400" >2</text>
<text x="384.95" y="1715.60" font-size="16.5" fill="#222" text-anchor="middle" font-weight="400" >+</text>
<rect x="381.45" y="1741.30" width="7.30" height="2.50" fill="#222" />
<circle cx="416.00" cy="1727.3" r="10.2" fill="#fff" stroke="#d96400" stroke-width="1.9"/>
<text x="416.00" y="1732.80" font-size="15.5" fill="#222" text-anchor="middle" font-weight="400" >3</text>
<text x="426.00" y="1715.60" font-size="16.5" fill="#222" text-anchor="middle" font-weight="400" >+</text>
<rect x="422.50" y="1741.30" width="7.30" height="2.50" fill="#222" />
<circle cx="457.05" cy="1727.3" r="10.2" fill="#fff" stroke="#d96400" stroke-width="1.9"/>
<text x="457.05" y="1732.80" font-size="15.5" fill="#222" text-anchor="middle" font-weight="400" >4</text>
<text x="467.05" y="1715.60" font-size="16.5" fill="#222" text-anchor="middle" font-weight="400" >+</text>
<rect x="463.55" y="1741.30" width="7.30" height="2.50" fill="#222" />
<circle cx="498.10" cy="1727.3" r="10.2" fill="#fff" stroke="#d96400" stroke-width="1.9"/>
<text x="498.10" y="1732.80" font-size="15.5" fill="#222" text-anchor="middle" font-weight="400" >5</text>
<text x="508.10" y="1715.60" font-size="16.5" fill="#222" text-anchor="middle" font-weight="400" >+</text>
<rect x="504.60" y="1741.30" width="7.30" height="2.50" fill="#222" />
<circle cx="539.15" cy="1727.3" r="10.2" fill="#fff" stroke="#d96400" stroke-width="1.9"/>
<text x="539.15" y="1732.80" font-size="15.5" fill="#222" text-anchor="middle" font-weight="400" >7</text>
<text x="549.15" y="1715.60" font-size="16.5" fill="#222" text-anchor="middle" font-weight="400" >+</text>
<rect x="545.65" y="1741.30" width="7.30" height="2.50" fill="#222" />
<circle cx="580.20" cy="1727.3" r="10.2" fill="#fff" stroke="#d96400" stroke-width="1.9"/>
<text x="580.20" y="1732.80" font-size="15.5" fill="#222" text-anchor="middle" font-weight="400" >8</text>
<text x="590.20" y="1715.60" font-size="16.5" fill="#222" text-anchor="middle" font-weight="400" >+</text>
<rect x="586.70" y="1741.30" width="7.30" height="2.50" fill="#222" />
<circle cx="621.25" cy="1727.3" r="10.2" fill="#fff" stroke="#d96400" stroke-width="1.9"/>
<text x="621.25" y="1732.80" font-size="15.5" fill="#222" text-anchor="middle" font-weight="400" >9</text>
<text x="631.25" y="1715.60" font-size="16.5" fill="#222" text-anchor="middle" font-weight="400" >+</text>
<rect x="627.75" y="1741.30" width="7.30" height="2.50" fill="#222" />
<text x="273.60" y="1734.60" font-size="18" fill="#222" text-anchor="middle" font-weight="400" letter-spacing="0.1">有源开关</text>
<rect x="51.20" y="1951.20" width="688.70" height="123.70" fill="#20b3ff" rx="1.5"/>
<rect x="55.20" y="1955.20" width="680.70" height="115.70" fill="#2f364a" />
<rect x="55.20" y="1955.20" width="0.90" height="115.70" fill="#221a24" />
<rect x="55.20" y="2042.60" width="680.70" height="28.30" fill="#1e1e28" />
<text x="96.20" y="1994.00" font-size="12.6" fill="#fff" text-anchor="middle" font-weight="400" letter-spacing="-0.5">DC9-28V</text>
<rect x="66.00" y="1998.20" width="61.30" height="15.40" fill="#fff" />
<rect x="66.50" y="2015.80" width="22.70" height="22.30" fill="#2b3144" stroke="#bdb9c2" stroke-width="1.2"/>
<text x="77.85" y="2031.85" font-size="15.5" fill="#fff" text-anchor="middle" font-weight="400" >1</text>
<rect x="104.10" y="2015.80" width="22.70" height="22.30" fill="#2b3144" stroke="#bdb9c2" stroke-width="1.2"/>
<text x="115.45" y="2031.85" font-size="15.5" fill="#fff" text-anchor="middle" font-weight="400" >2</text>
<text x="78.00" y="2011.00" font-size="13.5" fill="#222" text-anchor="middle" font-weight="400" >+</text>
<rect x="111.50" y="2006.40" width="9.00" height="1.60" fill="#222" />
<text x="174.00" y="1994.00" font-size="12.6" fill="#fff" text-anchor="middle" font-weight="400" letter-spacing="-0.4">RS485</text>
<rect x="145.70" y="1998.20" width="61.00" height="15.40" fill="#fff" />
<rect x="146.20" y="2015.80" width="22.50" height="22.30" fill="#2b3144" stroke="#bdb9c2" stroke-width="1.2"/>
<text x="157.45" y="2031.85" font-size="15.5" fill="#fff" text-anchor="middle" font-weight="400" >3</text>
<rect x="183.50" y="2015.80" width="22.70" height="22.30" fill="#2b3144" stroke="#bdb9c2" stroke-width="1.2"/>
<text x="194.85" y="2031.85" font-size="15.5" fill="#fff" text-anchor="middle" font-weight="400" >4</text>
<text x="156.50" y="2010.80" font-size="13" fill="#222" text-anchor="middle" font-weight="400" letter-spacing="-0.4">A+</text>
<text x="196.00" y="2010.80" font-size="13" fill="#222" text-anchor="middle" font-weight="400" letter-spacing="-0.4">B-</text>
<text x="328.00" y="1994.00" font-size="12.6" fill="#fff" text-anchor="middle" font-weight="400" letter-spacing="-0.4">RS232</text>
<rect x="283.90" y="1998.20" width="85.70" height="15.40" fill="#fff" />
<rect x="284.40" y="2015.80" width="22.60" height="22.30" fill="#2b3144" stroke="#bdb9c2" stroke-width="1.2"/>
<text x="295.70" y="2031.85" font-size="15.5" fill="#fff" text-anchor="middle" font-weight="400" >5</text>
<text x="295.70" y="2010.80" font-size="13" fill="#222" text-anchor="middle" font-weight="400" letter-spacing="-1.2">TX</text>
<rect x="315.45" y="2015.80" width="22.60" height="22.30" fill="#2b3144" stroke="#bdb9c2" stroke-width="1.2"/>
<text x="326.75" y="2031.85" font-size="15.5" fill="#fff" text-anchor="middle" font-weight="400" >6</text>
<text x="326.75" y="2010.80" font-size="13" fill="#222" text-anchor="middle" font-weight="400" letter-spacing="-1">RX</text>
<rect x="346.50" y="2015.80" width="22.60" height="22.30" fill="#2b3144" stroke="#bdb9c2" stroke-width="1.2"/>
<text x="357.80" y="2031.85" font-size="15.5" fill="#fff" text-anchor="middle" font-weight="400" >7</text>
<text x="357.80" y="2010.20" font-size="10" fill="#222" text-anchor="middle" font-weight="400" letter-spacing="-1.2">GND</text>
<text x="570.50" y="1994.00" font-size="12.6" fill="#fff" text-anchor="middle" font-weight="400" letter-spacing="-0.3">DI</text>
<rect x="420.60" y="1998.20" width="301.70" height="15.40" fill="#fff" />
<rect x="421.10" y="2015.80" width="22.20" height="22.30" fill="#2b3144" stroke="#bdb9c2" stroke-width="1.2"/>
<text x="432.20" y="2031.85" font-size="15.5" fill="#fff" text-anchor="middle" font-weight="400" >8</text>
<text x="432.80" y="2010.40" font-size="10.5" fill="#222" text-anchor="middle" font-weight="400" textLength="24" lengthAdjust="spacingAndGlyphs">COM+</text>
<rect x="452.05" y="2015.80" width="22.20" height="22.30" fill="#2b3144" stroke="#bdb9c2" stroke-width="1.2"/>
<text x="463.15" y="2031.85" font-size="15.5" fill="#fff" text-anchor="middle" font-weight="400" >9</text>
<text x="463.55" y="2010.40" font-size="10.8" fill="#222" text-anchor="middle" font-weight="400" letter-spacing="-0.2">IN1</text>
<rect x="483.00" y="2015.80" width="22.20" height="22.30" fill="#2b3144" stroke="#bdb9c2" stroke-width="1.2"/>
<text x="494.10" y="2031.85" font-size="15.5" fill="#fff" text-anchor="middle" font-weight="400" letter-spacing="-0.8">10</text>
<text x="494.50" y="2010.40" font-size="10.8" fill="#222" text-anchor="middle" font-weight="400" letter-spacing="-0.2">IN2</text>
<rect x="513.95" y="2015.80" width="22.20" height="22.30" fill="#2b3144" stroke="#bdb9c2" stroke-width="1.2"/>
<text x="525.05" y="2031.85" font-size="15.5" fill="#fff" text-anchor="middle" font-weight="400" letter-spacing="-0.8">11</text>
<text x="525.45" y="2010.40" font-size="10.8" fill="#222" text-anchor="middle" font-weight="400" letter-spacing="-0.2">IN3</text>
<rect x="544.90" y="2015.80" width="22.20" height="22.30" fill="#2b3144" stroke="#bdb9c2" stroke-width="1.2"/>
<text x="556.00" y="2031.85" font-size="15.5" fill="#fff" text-anchor="middle" font-weight="400" letter-spacing="-0.8">12</text>
<text x="556.40" y="2010.40" font-size="10.8" fill="#222" text-anchor="middle" font-weight="400" letter-spacing="-0.2">IN4</text>
<rect x="575.85" y="2015.80" width="22.20" height="22.30" fill="#2b3144" stroke="#bdb9c2" stroke-width="1.2"/>
<text x="586.95" y="2031.85" font-size="15.5" fill="#fff" text-anchor="middle" font-weight="400" letter-spacing="-0.8">13</text>
<text x="587.35" y="2010.40" font-size="10.8" fill="#222" text-anchor="middle" font-weight="400" letter-spacing="-0.2">IN5</text>
<rect x="606.80" y="2015.80" width="22.20" height="22.30" fill="#2b3144" stroke="#bdb9c2" stroke-width="1.2"/>
<text x="617.90" y="2031.85" font-size="15.5" fill="#fff" text-anchor="middle" font-weight="400" letter-spacing="-0.8">14</text>
<text x="618.30" y="2010.40" font-size="10.8" fill="#222" text-anchor="middle" font-weight="400" letter-spacing="-0.2">IN6</text>
<rect x="637.75" y="2015.80" width="22.20" height="22.30" fill="#2b3144" stroke="#bdb9c2" stroke-width="1.2"/>
<text x="648.85" y="2031.85" font-size="15.5" fill="#fff" text-anchor="middle" font-weight="400" letter-spacing="-0.8">15</text>
<text x="649.25" y="2010.40" font-size="10.8" fill="#222" text-anchor="middle" font-weight="400" letter-spacing="-0.2">IN7</text>
<rect x="668.70" y="2015.80" width="22.20" height="22.30" fill="#2b3144" stroke="#bdb9c2" stroke-width="1.2"/>
<text x="679.80" y="2031.85" font-size="15.5" fill="#fff" text-anchor="middle" font-weight="400" letter-spacing="-0.8">16</text>
<text x="680.20" y="2010.40" font-size="10.8" fill="#222" text-anchor="middle" font-weight="400" letter-spacing="-0.2">IN8</text>
<rect x="699.65" y="2015.80" width="22.20" height="22.30" fill="#2b3144" stroke="#bdb9c2" stroke-width="1.2"/>
<text x="710.75" y="2031.85" font-size="15.5" fill="#fff" text-anchor="middle" font-weight="400" letter-spacing="-0.8">17</text>
<text x="710.75" y="2010.40" font-size="10.5" fill="#222" text-anchor="middle" font-weight="400" textLength="24" lengthAdjust="spacingAndGlyphs">COM-</text>
<line x1="463.00" y1="2038.60" x2="463.00" y2="2243.60" stroke="#d96400" stroke-width="2.2"/>
<line x1="494.05" y1="2038.60" x2="494.05" y2="2243.60" stroke="#d96400" stroke-width="2.2"/>
<line x1="525.10" y1="2038.60" x2="525.10" y2="2243.60" stroke="#d96400" stroke-width="2.2"/>
<line x1="556.15" y1="2038.60" x2="556.15" y2="2243.60" stroke="#d96400" stroke-width="2.2"/>
<line x1="587.20" y1="2038.60" x2="587.20" y2="2243.60" stroke="#d96400" stroke-width="2.2"/>
<line x1="618.25" y1="2038.60" x2="618.25" y2="2243.60" stroke="#d96400" stroke-width="2.2"/>
<line x1="649.30" y1="2038.60" x2="649.30" y2="2243.60" stroke="#d96400" stroke-width="2.2"/>
<line x1="680.35" y1="2038.60" x2="680.35" y2="2243.60" stroke="#d96400" stroke-width="2.2"/>
<line x1="78.20" y1="2038.60" x2="78.20" y2="2310.00" stroke="#d96400" stroke-width="2.2"/>
<line x1="116.00" y1="2038.60" x2="116.00" y2="2310.00" stroke="#0e72c2" stroke-width="2.2"/>
<path d="M78.2,2243.6 H104 A12,12 0 0 1 128,2243.6 H681.45" fill="none" stroke="#d96400" stroke-width="2.2"/>
<path d="M709.7,2038.6 V2255.6 H114.9" fill="none" stroke="#0e72c2" stroke-width="2.2"/>
<rect x="444.20" y="2129.30" width="31.60" height="49.50" fill="#fff" stroke="#8d8d8d" stroke-width="0.9" stroke-dasharray="2.6 1.8"/>
<use href="#sw" transform="translate(460.00,2129.30) scale(0.952)"/>
<rect x="475.80" y="2129.30" width="31.60" height="49.50" fill="#fff" stroke="#8d8d8d" stroke-width="0.9" stroke-dasharray="2.6 1.8"/>
<use href="#sw" transform="translate(491.60,2129.30) scale(0.952)"/>
<rect x="507.40" y="2129.30" width="31.60" height="49.50" fill="#fff" stroke="#8d8d8d" stroke-width="0.9" stroke-dasharray="2.6 1.8"/>
<use href="#sw" transform="translate(523.20,2129.30) scale(0.952)"/>
<rect x="539.00" y="2129.30" width="31.60" height="49.50" fill="#fff" stroke="#8d8d8d" stroke-width="0.9" stroke-dasharray="2.6 1.8"/>
<use href="#sw" transform="translate(554.80,2129.30) scale(0.952)"/>
<rect x="570.60" y="2129.30" width="31.60" height="49.50" fill="#fff" stroke="#8d8d8d" stroke-width="0.9" stroke-dasharray="2.6 1.8"/>
<use href="#sw" transform="translate(586.40,2129.30) scale(0.952)"/>
<rect x="602.20" y="2129.30" width="31.60" height="49.50" fill="#fff" stroke="#8d8d8d" stroke-width="0.9" stroke-dasharray="2.6 1.8"/>
<use href="#sw" transform="translate(618.00,2129.30) scale(0.952)"/>
<rect x="633.80" y="2129.30" width="31.60" height="49.50" fill="#fff" stroke="#8d8d8d" stroke-width="0.9" stroke-dasharray="2.6 1.8"/>
<use href="#sw" transform="translate(649.60,2129.30) scale(0.952)"/>
<rect x="665.40" y="2129.30" width="31.60" height="49.50" fill="#fff" stroke="#8d8d8d" stroke-width="0.9" stroke-dasharray="2.6 1.8"/>
<use href="#sw" transform="translate(681.20,2129.30) scale(0.952)"/>
<text x="581.50" y="2289.30" font-size="17.5" fill="#222" text-anchor="middle" font-weight="400" letter-spacing="1.2">无源开关</text>
<rect x="51.3" y="2310.5" width="94.8" height="65" fill="#fff" stroke="#333" stroke-width="1" stroke-dasharray="4 2.5"/>
<text x="78.30" y="2324.50" font-size="16" fill="#222" text-anchor="middle" font-weight="400" >+</text>
<rect x="111.50" y="2317.30" width="9.00" height="2.60" fill="#222" />
<text x="97.30" y="2344.00" font-size="18.5" fill="#222" text-anchor="middle" font-weight="400" textLength="48" lengthAdjust="spacingAndGlyphs">9-28V</text>
<text x="69.20" y="2365.20" font-size="17" fill="#222" text-anchor="start" font-weight="400" textLength="21.5" lengthAdjust="spacingAndGlyphs">DC</text>
<text x="91.00" y="2365.00" font-size="15.5" fill="#222" font-weight="400" letter-spacing="2.400" >电源</text>
<text transform="translate(126.00,217.40) scale(1.0900,1)" x="-2.00" y="0" font-size="24" fill="#eceef4" font-weight="350" letter-spacing="1.207" >LH-IO606</text>
<text x="247.00" y="217.40" font-size="23" fill="#eceef4" font-weight="350" letter-spacing="0.000" >，</text>
<text x="273.60" y="217.40" font-size="23" fill="#eceef4" font-weight="350" letter-spacing="1.733" >可接有源</text>
<text transform="translate(371.80,217.40) scale(1.0900,1)" x="-2.00" y="0" font-size="24" fill="#eceef4" font-weight="350" letter-spacing="0.353" >NPN</text>
<text x="423.00" y="217.40" font-size="23" fill="#eceef4" font-weight="350" letter-spacing="0.000" >或</text>
<text transform="translate(451.60,217.40) scale(1.0370,1)" x="-2.00" y="0" font-size="24" fill="#eceef4" font-weight="350" letter-spacing="0.000" >PNP</text>
<text x="500.20" y="217.40" font-size="23" fill="#eceef4" font-weight="350" letter-spacing="1.300" >开关</text>
<text x="548.40" y="217.40" font-size="23" fill="#eceef4" font-weight="350" letter-spacing="0.000" >、</text>
<text x="565.70" y="217.40" font-size="23" fill="#eceef4" font-weight="350" letter-spacing="1.500" >无源开关</text>
<text transform="translate(166.40,253.60) scale(1.0900,1)" x="-2.00" y="0" font-size="24" fill="#eceef4" font-weight="350" letter-spacing="1.010" >LH-IO808</text>
<text x="286.00" y="253.60" font-size="23" fill="#eceef4" font-weight="350" letter-spacing="0.000" >，</text>
<text x="312.90" y="253.60" font-size="23" fill="#eceef4" font-weight="350" letter-spacing="1.167" >可接有源</text>
<text transform="translate(411.60,253.60) scale(1.0283,1)" x="-2.00" y="0" font-size="24" fill="#eceef4" font-weight="350" letter-spacing="0.000" >PNP</text>
<text x="459.00" y="253.60" font-size="23" fill="#eceef4" font-weight="350" letter-spacing="2.500" >开关</text>
<text x="508.70" y="253.60" font-size="23" fill="#eceef4" font-weight="350" letter-spacing="0.000" >、</text>
<text x="526.50" y="253.60" font-size="23" fill="#eceef4" font-weight="350" letter-spacing="1.500" >无源开关</text>
<text transform="translate(134.50,401.90) scale(1.0900,1)" x="-2.00" y="0" font-size="26.5" fill="#2a2a2e" font-weight="350" letter-spacing="0.317" >LH-IO606</text>
<text x="268.80" y="401.90" font-size="26" fill="#2a2a2e" font-weight="350" letter-spacing="-0.700" >接有源开关</text>
<text x="382.00" y="401.90" font-size="26" fill="#2a2a2e" font-weight="350" letter-spacing="0.000" >（</text>
<text x="410.40" y="401.90" font-size="26" fill="#2a2a2e" font-weight="350" letter-spacing="1.300" >湿接点</text>
<text transform="translate(490.30,401.90) scale(1.0846,1)" x="-2.00" y="0" font-size="26.5" fill="#2a2a2e" font-weight="350" letter-spacing="0.000" >NPN</text>
<text x="545.50" y="401.90" font-size="26" fill="#2a2a2e" font-weight="350" letter-spacing="0.000" >或</text>
<text transform="translate(573.40,401.90) scale(1.0900,1)" x="-2.00" y="0" font-size="26.5" fill="#2a2a2e" font-weight="350" letter-spacing="0.739" >PNP</text>
<text x="630.50" y="401.90" font-size="26" fill="#2a2a2e" font-weight="350" letter-spacing="0.000" >型</text>
<text x="658.50" y="401.90" font-size="26" fill="#2a2a2e" font-weight="350" letter-spacing="0.000" >）</text>
<text transform="translate(211.30,995.90) scale(1.0900,1)" x="-2.00" y="0" font-size="27" fill="#2a2a2e" font-weight="350" letter-spacing="0.372" >LH-IO606</text>
<text x="347.60" y="995.90" font-size="26" fill="#2a2a2e" font-weight="350" letter-spacing="-0.600" >接无源开关</text>
<text x="461.30" y="995.90" font-size="26" fill="#2a2a2e" font-weight="350" letter-spacing="0.000" >（</text>
<text x="488.60" y="995.90" font-size="26" fill="#2a2a2e" font-weight="350" letter-spacing="1.700" >干接点</text>
<text x="571.60" y="995.90" font-size="26" fill="#2a2a2e" font-weight="350" letter-spacing="0.000" >）</text>
<text transform="translate(170.50,1523.30) scale(1.0900,1)" x="-2.00" y="0" font-size="27" fill="#2a2a2e" font-weight="350" letter-spacing="0.149" >LH-IO808</text>
<text x="304.20" y="1523.30" font-size="26" fill="#2a2a2e" font-weight="350" letter-spacing="-0.800" >接有源开关</text>
<text x="416.90" y="1523.30" font-size="26" fill="#2a2a2e" font-weight="350" letter-spacing="0.000" >（</text>
<text x="444.40" y="1523.30" font-size="26" fill="#2a2a2e" font-weight="350" letter-spacing="2.000" >湿接点</text>
<text transform="translate(527.50,1523.30) scale(1.0900,1)" x="-2.00" y="0" font-size="27" fill="#2a2a2e" font-weight="350" letter-spacing="0.055" >PNP</text>
<text x="585.20" y="1523.30" font-size="26" fill="#2a2a2e" font-weight="350" letter-spacing="0.000" >型</text>
<text x="613.00" y="1523.30" font-size="26" fill="#2a2a2e" font-weight="350" letter-spacing="0.000" >）</text>
<text transform="translate(229.20,1918.90) scale(1.0900,1)" x="-2.00" y="0" font-size="27" fill="#2a2a2e" font-weight="350" letter-spacing="0.267" >LH-IO808</text>
<text x="365.00" y="1918.90" font-size="26" fill="#2a2a2e" font-weight="350" letter-spacing="-0.567" >无源开关</text>
<text x="466.30" y="1918.90" font-size="27" fill="#2a2a2e" font-weight="350" letter-spacing="0.000" >(</text>
<text x="474.80" y="1918.90" font-size="26" fill="#2a2a2e" font-weight="350" letter-spacing="1.850" >干接点</text>
<text x="556.50" y="1918.90" font-size="27" fill="#2a2a2e" font-weight="350" letter-spacing="0.000" >)</text>
<text x="279.80" y="893.20" font-size="17.5" fill="#222" font-weight="400" letter-spacing="0.000" >【</text>
<text x="301.00" y="893.20" font-size="17.5" fill="#222" font-weight="400" letter-spacing="0.600" >每路输入可分别使用</text>
<text transform="translate(464.00,893.20) scale(1.0694,1)" x="-1.00" y="0" font-size="18" fill="#222" font-weight="400" letter-spacing="0.000" >NPN</text>
<text x="503.20" y="893.20" font-size="17.5" fill="#222" font-weight="400" letter-spacing="0.000" >或</text>
<text x="521.30" y="893.20" font-size="18" fill="#222" font-weight="400" letter-spacing="0.000" >PNP</text>
<text x="558.00" y="893.20" font-size="17.5" fill="#222" font-weight="400" letter-spacing="0.400" >型开关</text>
<text x="610.70" y="893.20" font-size="17.5" fill="#222" font-weight="400" letter-spacing="0.000" >，</text>
<text x="621.90" y="893.20" font-size="17.5" fill="#222" font-weight="400" letter-spacing="0.700" >互不影响</text>
<text x="696.40" y="893.20" font-size="17.5" fill="#222" font-weight="400" letter-spacing="0.000" >】</text>
<text x="460.30" y="869.60" font-size="18" fill="#222" font-weight="400" letter-spacing="0.400" >有源开关</text>
<text x="146.50" y="2548.20" font-size="16" fill="#28a4ef" font-weight="400" letter-spacing="0.500" >无源开关</text>
<text x="206.90" y="2548.20" font-size="16" fill="#28a4ef" font-weight="400" letter-spacing="0.000" >（</text>
<text x="223.70" y="2548.20" font-size="16" fill="#28a4ef" font-weight="400" letter-spacing="0.100" >干接点</text>
<text x="272.20" y="2548.20" font-size="16" fill="#28a4ef" font-weight="400" letter-spacing="0.000" >）</text>
<text x="282.20" y="2548.20" font-size="16" fill="#28a4ef" font-weight="400" letter-spacing="0.000" >：</text>
<text x="307.10" y="2548.20" font-size="16" fill="#fff" font-weight="400" letter-spacing="0.180" >无源触点信号</text>
<text x="405.00" y="2548.20" font-size="16" fill="#fff" font-weight="400" letter-spacing="0.000" >，</text>
<text x="421.50" y="2548.20" font-size="16" fill="#fff" font-weight="400" letter-spacing="1.000" >如各类开关</text>
<text x="506.90" y="2548.20" font-size="16" fill="#fff" font-weight="400" letter-spacing="0.000" >、</text>
<text x="520.50" y="2548.20" font-size="16" fill="#fff" font-weight="400" letter-spacing="1.450" >按键等</text>
<text x="574.20" y="2548.20" font-size="16" fill="#fff" font-weight="400" letter-spacing="0.000" >；</text>
<text x="146.50" y="2584.20" font-size="16" fill="#28a4ef" font-weight="400" letter-spacing="0.500" >有源开关</text>
<text x="206.90" y="2584.20" font-size="16" fill="#28a4ef" font-weight="400" letter-spacing="0.000" >（</text>
<text x="223.70" y="2584.20" font-size="16" fill="#28a4ef" font-weight="400" letter-spacing="0.100" >湿接点</text>
<text x="272.20" y="2584.20" font-size="16" fill="#28a4ef" font-weight="400" letter-spacing="0.000" >）</text>
<text x="280.50" y="2584.20" font-size="16" fill="#28a4ef" font-weight="400" letter-spacing="0.000" >：</text>
<text x="305.70" y="2584.20" font-size="16" fill="#fff" font-weight="400" letter-spacing="0.460" >带电压的信号</text>
<text x="396.00" y="2584.20" font-size="16" fill="#fff" font-weight="400" letter-spacing="0.000" >（</text>
<text x="412.90" y="2584.20" font-size="16" fill="#fff" font-weight="400" letter-spacing="0.400" >高低电平</text>
<text x="479.50" y="2584.20" font-size="16" fill="#fff" font-weight="400" letter-spacing="0.000" >、</text>
<text x="494.20" y="2584.20" font-size="16" fill="#fff" font-weight="400" letter-spacing="1.500" >脉冲</text>
<text x="527.40" y="2584.20" font-size="16" fill="#fff" font-weight="400" letter-spacing="0.000" >）</text>
<text x="535.60" y="2584.20" font-size="16" fill="#fff" font-weight="400" letter-spacing="0.000" >，</text>
<text x="554.70" y="2584.20" font-size="16" fill="#fff" font-weight="400" letter-spacing="-0.700" >如红外检测</text>
<text x="635.00" y="2584.20" font-size="16" fill="#fff" font-weight="400" letter-spacing="0.000" >、</text>
<text x="146.50" y="2613.30" font-size="16" fill="#fff" font-weight="400" letter-spacing="0.650" >三极管输出</text>
<text x="228.50" y="2613.30" font-size="16" fill="#fff" font-weight="400" letter-spacing="0.000" >、</text>
<text x="238.80" y="2613.30" font-size="16" fill="#fff" font-weight="400" letter-spacing="0.500" >液位检测</text>
<text x="305.40" y="2613.30" font-size="16" fill="#fff" font-weight="400" letter-spacing="0.000" >、</text>
<text x="321.80" y="2613.30" font-size="16" fill="#fff" font-weight="400" letter-spacing="0.633" >烟感检测</text>
<text x="388.40" y="2613.30" font-size="16" fill="#fff" font-weight="400" letter-spacing="0.000" >、</text>
<text x="404.40" y="2613.30" font-size="16.5" fill="#fff" font-weight="400" letter-spacing="0.000" >PLC</text>
<text x="440.20" y="2613.30" font-size="16" fill="#fff" font-weight="400" letter-spacing="1.800" >输出</text>
<text x="476.00" y="2613.30" font-size="16" fill="#fff" font-weight="400" letter-spacing="0.000" >、</text>
<text x="490.80" y="2613.30" font-size="16" fill="#fff" font-weight="400" letter-spacing="0.150" >流量检测等</text>
<text x="574.20" y="2613.30" font-size="16" fill="#fff" font-weight="400" letter-spacing="0.000" >；</text>
<text x="310.30" y="2484.60" font-size="22" fill="#fff" font-weight="500" letter-spacing="0.117" >常见的各类开关</text>
<text x="308.90" y="138.20" font-size="41" fill="#fff" font-weight="700" letter-spacing="2.833" >输入接线</text>
<text x="327.80" y="438.00" font-size="19.5" fill="#2b3049" font-weight="700" letter-spacing="3.440" >每路互相隔离</text>
</svg>
</body>
</html>
